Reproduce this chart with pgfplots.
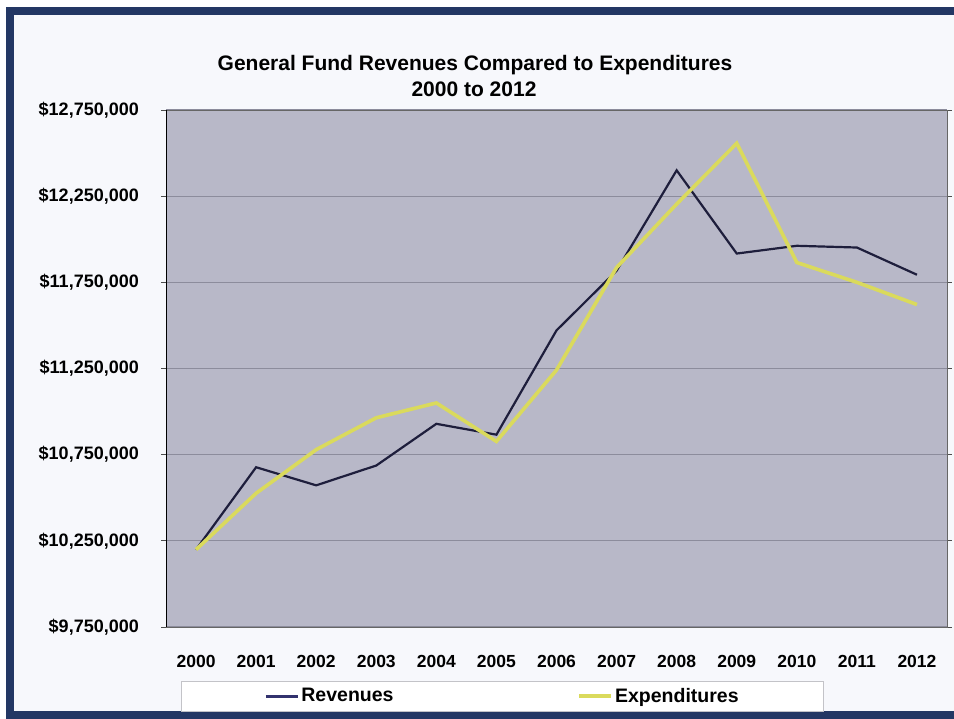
\documentclass[border=0pt]{standalone}
\usepackage{pgfplots}
\pgfplotsset{compat=1.18}
\usepackage{fontspec}
\setmainfont{Liberation Sans}
\definecolor{frame}{RGB}{35,55,100}
\definecolor{bgc}{RGB}{247,248,252}
\definecolor{plotbg}{RGB}{184,184,200}
\definecolor{gridc}{RGB}{140,140,156}
\definecolor{rev}{RGB}{30,30,60}
\definecolor{revleg}{RGB}{50,50,110}
\definecolor{expc}{RGB}{218,218,92}
\definecolor{legbox}{RGB}{195,195,200}
\begin{document}
\begin{tikzpicture}
\useasboundingbox (0,0) rectangle (954bp,719bp);
\fill[white] (0,0) rectangle (954bp,719bp);
\fill[bgc] (10bp,4bp) rectangle (954bp,707bp);
\draw[frame, line width=8bp] (960bp,707.5bp) -- (10bp,707.5bp) -- (10bp,4bp) -- (960bp,4bp);
\node[anchor=base, font=\fontsize{21bp}{24bp}\selectfont\bfseries, inner sep=0pt] at (475bp,648.5bp) {General Fund Revenues Compared to Expenditures};
\node[anchor=base, font=\fontsize{21bp}{24bp}\selectfont\bfseries, inner sep=0pt] at (474bp,622bp) {2000 to 2012};
\begin{axis}[
  at={(166bp,92bp)}, anchor=south west,
  scale only axis, width=781bp, height=517bp,
  xmin=1999.5, xmax=2012.5,
  ymin=9750000, ymax=12750000,
  axis background/.style={fill=plotbg},
  axis line style={draw=gray!80!black, line width=0.8bp},
  xtick={2000,2001,2002,2003,2004,2005,2006,2007,2008,2009,2010,2011,2012},
  xticklabels={2000,2001,2002,2003,2004,2005,2006,2007,2008,2009,2010,2011,2012},
  ytick={9750000,10250000,10750000,11250000,11750000,12250000,12750000},
  yticklabels={{\$9,750,000},{\$10,250,000},{\$10,750,000},{\$11,250,000},{\$11,750,000},{\$12,250,000},{\$12,750,000}},
  scaled y ticks=false,
  ymajorgrids,
  major grid style={draw=gridc, line width=1.2bp},
  x tick style={draw=none},
  y tick style={draw=gray!60!black, line width=0.8bp},
  major tick length=5bp,
  tick align=outside,
  yticklabel style={font=\fontsize{18bp}{20bp}\selectfont\bfseries, inner sep=0pt, anchor=east, xshift=-22bp},
  xticklabel style={font=\fontsize{17.5bp}{20bp}\selectfont\bfseries, inner sep=0pt, anchor=north, yshift=-23bp},
  legend columns=2,
  legend style={at={(0.4309,-0.1335)}, anchor=center, draw=legbox, fill=white,
    font=\fontsize{19.5bp}{22bp}\selectfont\bfseries, inner xsep=83bp, inner ysep=5bp,
    /tikz/every even column/.append style={column sep=182bp}},
  legend image code/.code={\draw[#1] (0bp,0bp) -- (32bp,0bp);},
]
\addplot[rev, line width=2.2bp, forget plot] coordinates {
(2000,10199000) (2001,10677000) (2002,10572000) (2003,10687000) (2004,10929000)
(2005,10866000) (2006,11471000) (2007,11817000) (2008,12400000) (2009,11917000)
(2010,11962000) (2011,11952000) (2012,11794000)};
\addlegendimage{revleg, line width=3bp}
\addlegendentry{Revenues}
\addplot[expc, line width=3.6bp] coordinates {
(2000,10199000) (2001,10526000) (2002,10779000) (2003,10964000) (2004,11050000)
(2005,10827000) (2006,11241000) (2007,11836000) (2008,12204000) (2009,12557000)
(2010,11865000) (2011,11750000) (2012,11621000)};
\addlegendentry{Expenditures}
\draw[black, line width=1.4bp] (rel axis cs:0,0) -- (rel axis cs:0,1);
\end{axis}
\end{tikzpicture}
\end{document}
